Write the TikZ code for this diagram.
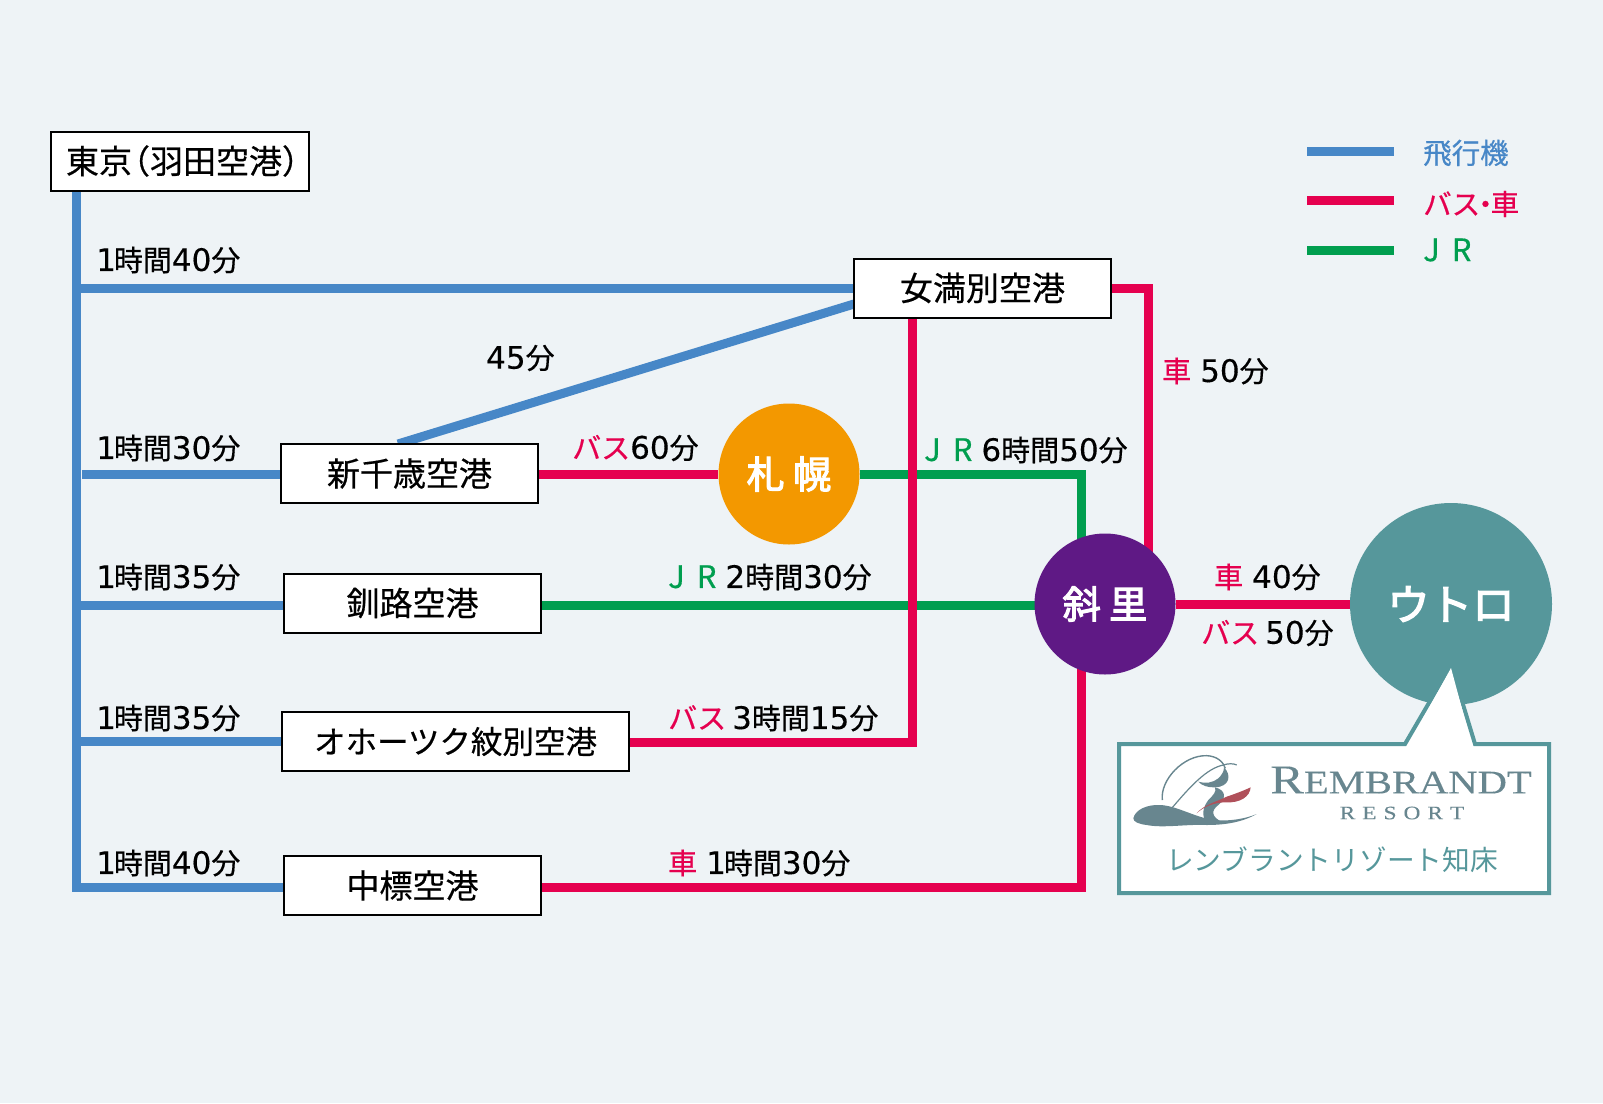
\documentclass[tikz,border=0pt]{standalone}
\usepackage{fontspec}
\newfontfamily\jp[FakeBold=0.5]{Noto Sans CJK JP}
\newfontfamily\jpb[FakeBold=3]{Noto Sans CJK JP}
\newfontfamily\jpthin{Noto Sans CJK JP}
\newfontfamily\digitfam[FakeBold=0.25]{DejaVu Sans}
\newfontfamily\brandfam[FakeStretch=1.23,FakeBold=0.2]{Liberation Serif}
\definecolor{bg}{HTML}{EEF3F6}
\definecolor{air}{HTML}{4787C7}
\definecolor{bus}{HTML}{E5004F}
\definecolor{jr}{HTML}{009E4F}
\definecolor{teal}{HTML}{56979B}
\definecolor{orng}{HTML}{F39800}
\definecolor{purp}{HTML}{5F1985}
\definecolor{logo}{HTML}{68868F}
\definecolor{feather}{HTML}{B0505A}
\newcommand{\tm}[1]{\textcolor{bus}{#1}}
\newcommand{\tj}[1]{\textcolor{jr}{#1}}
\newcommand{\dg}[1]{{\digitfam\fontsize{31}{30}\selectfont #1}}
\newcommand{\onedg}{\dg{1}\hspace{-2pt}}
\newcommand{\jrname}{{\jp\fontsize{31}{30}\selectfont J\hspace{12pt}R}}
\newcommand{\gp}{\hspace{9pt}}
\newcommand{\gq}{\hspace{6pt}}
\pgfdeclarelayer{lines}
\pgfsetlayers{lines,main}
\tikzset{
  airline/.style={air,line width=9pt},
  busline/.style={bus,line width=9pt},
  jrline/.style={jr,line width=9pt},
  place/.style={draw=black,line width=2pt,fill=white,font=\jp\fontsize{33}{35}\selectfont,inner sep=0pt,minimum height=59pt,text=black},
  lab/.style={font=\jp\fontsize{29}{30}\selectfont,inner sep=0pt,anchor=west,text=black},
  town/.style={circle,inner sep=0pt,text=white,font=\jpb\fontsize{38}{40}\selectfont},
  legend/.style={font=\jp\fontsize{28.5}{30}\selectfont,inner sep=0pt,anchor=west},
}
\begin{document}
\begin{tikzpicture}[x=1pt,y=-1pt]
\useasboundingbox (0,0) rectangle (1603,1103);
\begin{pgfonlayer}{lines}
\fill[bg] (0,0) rectangle (1603,1103);
\end{pgfonlayer}
% coordinates
\coordinate (trunk) at (76.5,887);
\coordinate (gapstart) at (82,474);
\coordinate (jm) at (1148,288);
\coordinate (jg) at (1081.5,474.5);
\coordinate (jb) at (1081.5,887);
\coordinate (jo) at (912,742);
\coordinate (jk) at (0,605);
\coordinate (diagA) at (398,444);
\coordinate (diagB) at (854,304);
% nodes
\node[place,minimum width=258pt] (tokyo) at (180,161) {\makebox[230pt][c]{\hspace{6pt}東京\hspace{-15pt}（羽田空港）\hspace{-15pt}}};
\node[place,minimum width=257pt] (memanbetsu) at (982.5,288) {女満別空港};
\node[place,minimum width=257pt] (chitose) at (409.5,473.5) {新千歳空港};
\node[place,minimum width=257pt] (kushiro) at (412.5,603) {釧路空港};
\node[place,minimum width=347pt,font=\jp\fontsize{31.5}{33}\selectfont] (monbetsu) at (455.5,741.5) {オホーツク紋別空港};
\node[place,minimum width=257pt] (naka) at (412.5,885.5) {中標空港};
\node[town,fill=orng,minimum size=141pt] (sapporo) at (789,474) {札 幌};
\node[town,fill=purp,minimum size=141pt] (shari) at (1105,604) {斜 里};
\node[town,fill=teal,minimum size=202pt,font=\jpb\fontsize{42.5}{45}\selectfont] (utoro) at (1451,604) {ウトロ};
% connectors
\begin{pgfonlayer}{lines}
\draw[airline] (tokyo.south -| trunk) -- (trunk) -- (trunk -| naka.west);
\draw[airline] (trunk |- memanbetsu) -- (memanbetsu.west);
\draw[airline] (gapstart) -- (gapstart -| chitose.west);
\draw[airline] (trunk |- jk) -- (kushiro.west |- jk);
\draw[airline] (trunk |- monbetsu) -- (monbetsu.west);
\draw[airline] (diagA) -- (diagB);
\draw[busline] (chitose.east |- sapporo) -- (sapporo.west);
\draw[jrline] (sapporo.east |- jg) -- (jg) -- (jg |- shari);
\draw[jrline] (kushiro.east |- jk) -- (shari |- jk);
\draw[busline] (jo |- memanbetsu.south) -- (jo) -- (jo -| monbetsu.east);
\draw[busline] (memanbetsu.east) -- (jm) -- (jm |- shari);
\draw[busline] (shari.east) -- (utoro.west);
\draw[busline] (naka.east |- jb) -- (jb) -- (jb |- shari);
\end{pgfonlayer}
% labels
\node[lab] (l1) at (96,260) {\onedg 時間\dg{40}分};
\node[lab] (l2) at (96,448) {\onedg 時間\dg{30}分};
\node[lab] (l3) at (96,577) {\onedg 時間\dg{35}分};
\node[lab] (l4) at (96,718) {\onedg 時間\dg{35}分};
\node[lab] (l5) at (96,863) {\onedg 時間\dg{40}分};
\node[lab] (l6) at (486,358) {\dg{45}分};
\node[lab] (l7) at (572,448) {\tm{バス}\dg{60}分};
\node[lab] (l8) at (924,450) {\tj{\jrname}\gp\dg{6}時間\dg{50}分};
\node[lab] (l9) at (668,577) {\tj{\jrname}\gp\dg{2}時間\dg{30}分};
\node[lab] (l10) at (668,718) {\tm{バス}\gq\dg{3}時間\dg{15}分};
\node[lab] (l11) at (668,863) {\tm{車}\gp\onedg 時間\dg{30}分};
\node[lab] (l12) at (1162,371) {\tm{車}\gp\dg{50}分};
\node[lab] (l13) at (1214,577) {\tm{車}\gp\dg{40}分};
\node[lab] (l14) at (1201,633) {\tm{バス}\gq\dg{50}分};
% legend
\coordinate (la) at (1307,151); \coordinate (lb) at (1394,151);
\draw[airline] (la) -- (lb);
\coordinate (lc) at (1307,200); \coordinate (ld) at (1394,200);
\draw[busline] (lc) -- (ld);
\coordinate (le) at (1307,250); \coordinate (lf) at (1394,250);
\draw[jrline] (le) -- (lf);
\node[legend,text=air] (t1) at (1423,153) {飛行機};
\node[legend,text=bus] (t2) at (1423,204) {バス\hspace{-9pt}・\hspace{-9pt}車};
\node[legend,text=jr] (t3) at (1423,250) {\jrname};
% callout
\filldraw[draw=teal,fill=white,line width=4pt,miter limit=10] (1119,744) -- (1405,744) -- (1451,665) -- (1475,744) -- (1549,744) -- (1549,893) -- (1119,893) -- cycle;
\fill[white] (1451,668) -- (1408,746) -- (1472,746) -- cycle;
% logo
\begin{scope}[shift={(1100,640)},scale=1/3]
\fill[logo] (100,535) .. controls (105,510) and (140,493) .. (180,495) .. controls (230,497) and (280,530) .. (340,540) .. controls (390,545) and (440,535) .. (470,522) .. controls (430,545) and (380,555) .. (320,555) .. controls (260,552) and (190,565) .. (140,555) .. controls (115,552) and (100,545) .. (100,535) -- cycle;
\draw[logo,line width=1.4pt] (187,480) .. controls (180,420) and (250,345) .. (320,347) .. controls (350,348) and (370,365) .. (376,385);
\draw[logo,line width=1.2pt] (215,505) .. controls (270,440) and (320,385) .. (370,375) .. controls (385,370) and (400,370) .. (410,375);
\fill[logo] (372,382) .. controls (395,405) and (390,440) .. (345,442) .. controls (325,443) and (305,437) .. (295,425) .. controls (315,432) and (340,428) .. (355,415) .. controls (365,405) and (372,395) .. (372,382) -- cycle;
\fill[logo] (345,442) .. controls (378,450) and (380,475) .. (355,495) .. controls (335,510) and (330,530) .. (370,548) -- (325,552) .. controls (300,530) and (310,500) .. (325,480) .. controls (340,465) and (350,455) .. (345,442) -- cycle;
\fill[feather] (290,520) .. controls (310,495) and (350,485) .. (380,470) .. controls (410,460) and (435,450) .. (452,442) .. controls (450,470) and (420,490) .. (375,487) .. controls (345,487) and (310,500) .. (290,520) -- cycle;
\end{scope}
\node[inner sep=0pt,text=logo,font=\brandfam\fontsize{41}{46}\selectfont] (brand) at (1401,780) {R\fontsize{33}{36}\selectfont EMBRANDT};
\node[inner sep=0pt,text=logo,font=\brandfam\fontsize{19}{20}\selectfont] (resort) at (1402,813) {R\hspace{7pt}E\hspace{7pt}S\hspace{7pt}O\hspace{7pt}R\hspace{7pt}T};
\node[inner sep=0pt,text=teal,font=\jpthin\fontsize{27.7}{29}\selectfont] (jpname) at (1332,860) {レンブラントリゾート知床};
\end{tikzpicture}
\end{document}
